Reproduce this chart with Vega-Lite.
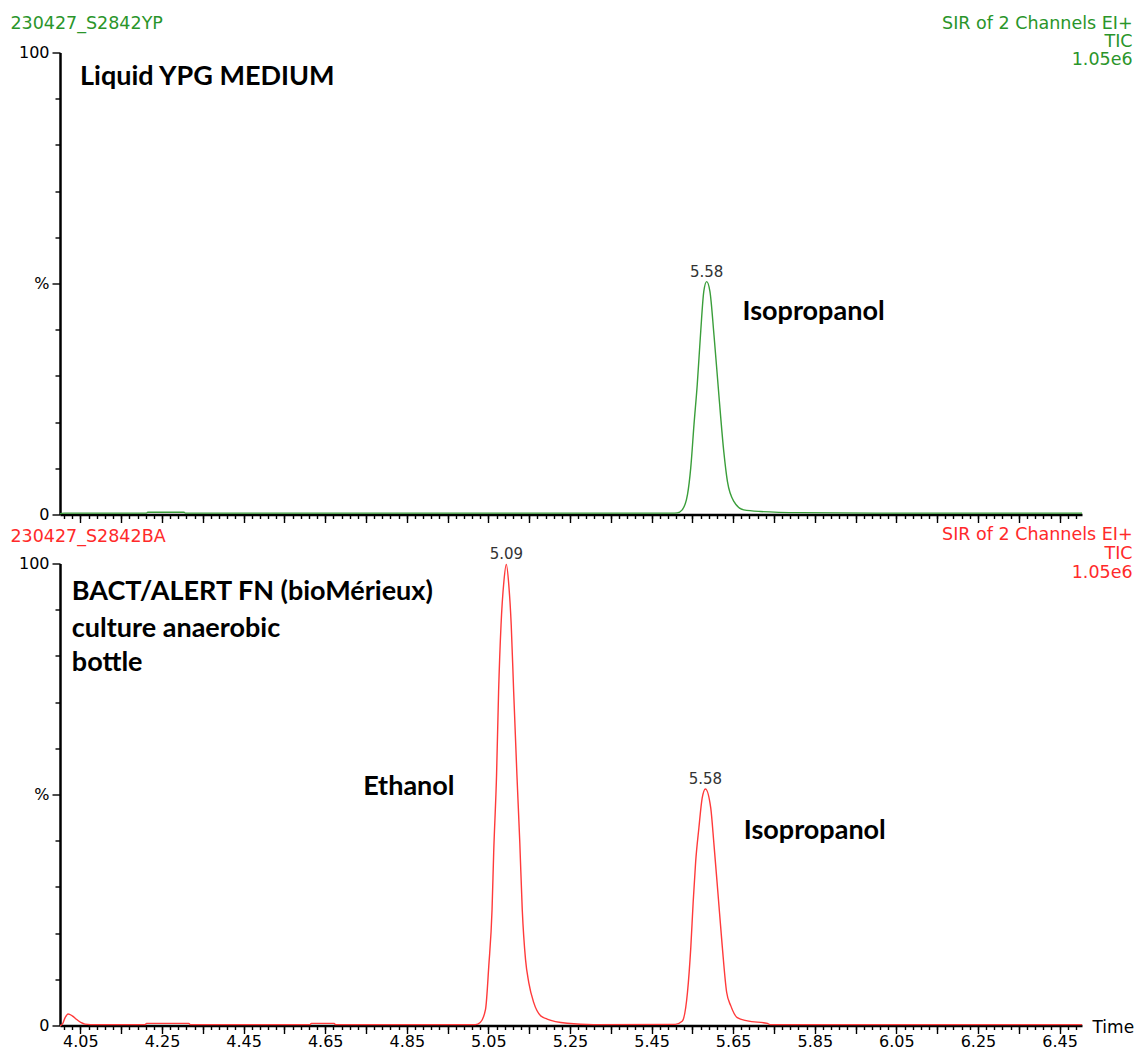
{
  "$schema": "https://vega.github.io/schema/vega-lite/v6.json",
  "background": "white",
  "padding": {"left": 10, "top": 14.5, "right": 4, "bottom": 2},
  "spacing": 49,
  "bounds": "flush",
  "config": {
    "view": {"stroke": null},
    "axis": {
      "grid": false,
      "domainColor": "#000000",
      "domainWidth": 2.5,
      "tickColor": "#000000",
      "tickWidth": 1.4,
      "labelColor": "#000000",
      "labelFont": "DejaVu Sans",
      "labelFontSize": 16,
      "titleFont": "DejaVu Sans",
      "titleFontSize": 17,
      "titleFontWeight": "normal",
      "titleColor": "#000000",
      "labelOverlap": false
    }
  },
  "datasets": {
    "yp": [
      {"time": 4.000, "pct": 0.2}, {"time": 4.010, "pct": 0.3}, {"time": 4.212, "pct": 0.3}, {"time": 4.215, "pct": 0.5},
      {"time": 4.304, "pct": 0.5}, {"time": 4.307, "pct": 0.3}, {"time": 5.500, "pct": 0.3}, {"time": 5.513, "pct": 0.35},
      {"time": 5.525, "pct": 1.0}, {"time": 5.538, "pct": 4.3}, {"time": 5.546, "pct": 10.1}, {"time": 5.554, "pct": 19.5},
      {"time": 5.562, "pct": 28.2}, {"time": 5.570, "pct": 39.0}, {"time": 5.578, "pct": 48.3}, {"time": 5.585, "pct": 50.4},
      {"time": 5.593, "pct": 48.3}, {"time": 5.603, "pct": 38.8}, {"time": 5.615, "pct": 25.8}, {"time": 5.627, "pct": 13.6},
      {"time": 5.636, "pct": 7.1}, {"time": 5.652, "pct": 2.8}, {"time": 5.676, "pct": 1.0}, {"time": 5.717, "pct": 0.65},
      {"time": 5.815, "pct": 0.4}, {"time": 6.000, "pct": 0.3}, {"time": 6.505, "pct": 0.3}
    ],
    "ba": [
      {"time": 4.000, "pct": 0.0}, {"time": 4.006, "pct": 0.3}, {"time": 4.012, "pct": 1.6}, {"time": 4.020, "pct": 2.5},
      {"time": 4.030, "pct": 2.1}, {"time": 4.041, "pct": 1.3}, {"time": 4.052, "pct": 0.6}, {"time": 4.061, "pct": 0.3},
      {"time": 4.075, "pct": 0.2}, {"time": 4.209, "pct": 0.2}, {"time": 4.212, "pct": 0.45}, {"time": 4.316, "pct": 0.45},
      {"time": 4.319, "pct": 0.2}, {"time": 4.613, "pct": 0.2}, {"time": 4.616, "pct": 0.45}, {"time": 4.672, "pct": 0.45},
      {"time": 4.675, "pct": 0.2}, {"time": 5.018, "pct": 0.2}, {"time": 5.030, "pct": 0.65}, {"time": 5.043, "pct": 3.5},
      {"time": 5.051, "pct": 12.9}, {"time": 5.059, "pct": 25.1}, {"time": 5.063, "pct": 37.4}, {"time": 5.070, "pct": 54.1},
      {"time": 5.075, "pct": 72.2}, {"time": 5.081, "pct": 86.7}, {"time": 5.088, "pct": 96.1}, {"time": 5.094, "pct": 99.8},
      {"time": 5.100, "pct": 95.4}, {"time": 5.106, "pct": 86.7}, {"time": 5.112, "pct": 72.2}, {"time": 5.120, "pct": 54.1},
      {"time": 5.127, "pct": 39.6}, {"time": 5.133, "pct": 25.1}, {"time": 5.141, "pct": 14.3}, {"time": 5.149, "pct": 9.3},
      {"time": 5.161, "pct": 5.0}, {"time": 5.178, "pct": 2.1}, {"time": 5.194, "pct": 1.4}, {"time": 5.243, "pct": 0.5},
      {"time": 5.308, "pct": 0.2}, {"time": 5.508, "pct": 0.25}, {"time": 5.525, "pct": 0.9}, {"time": 5.538, "pct": 7.2},
      {"time": 5.546, "pct": 16.7}, {"time": 5.552, "pct": 26.8}, {"time": 5.558, "pct": 35.4}, {"time": 5.566, "pct": 42.8},
      {"time": 5.574, "pct": 49.2}, {"time": 5.582, "pct": 51.2}, {"time": 5.595, "pct": 47.1}, {"time": 5.603, "pct": 39.1},
      {"time": 5.613, "pct": 28.3}, {"time": 5.623, "pct": 17.4}, {"time": 5.634, "pct": 7.2}, {"time": 5.644, "pct": 4.3},
      {"time": 5.660, "pct": 1.7}, {"time": 5.685, "pct": 1.0}, {"time": 5.734, "pct": 0.45}, {"time": 5.740, "pct": 0.2},
      {"time": 6.505, "pct": 0.2}
    ],
    "ypNotes": [
      {"kind": "label", "time": 4.049, "pct": 94.8, "text": "Liquid YPG MEDIUM"},
      {"kind": "label", "time": 5.673, "pct": 43.9, "text": "Isopropanol"},
      {"kind": "peak", "time": 5.585, "pct": 50.4, "text": "5.58"},
      {"kind": "hl", "time": 3.8785, "pct": 106.1, "text": "230427_S2842YP"},
      {"kind": "hr", "time": 6.629, "pct": 106.2, "text": "SIR of 2 Channels EI+"},
      {"kind": "hr", "time": 6.629, "pct": 102.2, "text": "TIC"},
      {"kind": "hr", "time": 6.629, "pct": 98.3, "text": "1.05e6"}
    ],
    "baNotes": [
      {"kind": "label", "time": 4.029, "pct": 93.9, "text": "BACT/ALERT FN (bioMérieux)"},
      {"kind": "label", "time": 4.029, "pct": 85.9, "text": "culture anaerobic"},
      {"kind": "label", "time": 4.029, "pct": 78.4, "text": "bottle"},
      {"kind": "label", "time": 4.743, "pct": 51.7, "text": "Ethanol"},
      {"kind": "label", "time": 5.676, "pct": 42.0, "text": "Isopropanol"},
      {"kind": "peak", "time": 5.094, "pct": 99.8, "text": "5.09"},
      {"kind": "peak", "time": 5.582, "pct": 51.2, "text": "5.58"},
      {"kind": "hl", "time": 3.8785, "pct": 105.8, "text": "230427_S2842BA"},
      {"kind": "hr", "time": 6.629, "pct": 106.1, "text": "SIR of 2 Channels EI+"},
      {"kind": "hr", "time": 6.629, "pct": 102.0, "text": "TIC"},
      {"kind": "hr", "time": 6.629, "pct": 97.9, "text": "1.05e6"}
    ]
  },
  "vconcat": [
    {
      "width": 1022,
      "height": 462,
      "resolve": {"axis": {"x": "independent", "y": "independent"}},
      "layer": [
        {
          "data": {"name": "yp"},
          "mark": {"type": "line", "color": "#3a9e3a", "strokeWidth": 1.4, "interpolate": "monotone"},
          "encoding": {
            "x": {"field": "time", "type": "quantitative",
              "scale": {"domain": [4.0, 6.505], "nice": false, "zero": false},
              "axis": {"orient": "bottom", "values": [4.05,4.15,4.25,4.35,4.45,4.55,4.65,4.75,4.85,4.95,5.05,5.15,5.25,5.35,5.45,5.55,5.65,5.75,5.85,5.95,6.05,6.15,6.25,6.35,6.45], "tickSize": 8, "labels": false, "title": null}},
            "y": {"field": "pct", "type": "quantitative",
              "scale": {"domain": [0, 100], "nice": false},
              "axis": {"orient": "left", "values": [0, 50, 100], "tickSize": 8, "labelFontSize": 16, "labelPadding": 3,
                "labelExpr": "datum.value == 100 ? '100' : (datum.value == 50 ? '%' : '0')", "title": null}}
          }
        },
        {
          "data": {"name": "ypNotes"},
          "transform": [{"filter": "datum.kind == 'label'"}],
          "mark": {"type": "text", "font": "Lato", "fontWeight": "bold", "fontSize": 27, "align": "left", "baseline": "middle", "color": "#000000"},
          "encoding": {
            "x": {"field": "time", "type": "quantitative",
              "axis": {"orient": "bottom", "values": [4.01,4.03,4.05,4.07,4.09,4.11,4.13,4.15,4.17,4.19,4.21,4.23,4.25,4.27,4.29,4.31,4.33,4.35,4.37,4.39,4.41,4.43,4.45,4.47,4.49,4.51,4.53,4.55,4.57,4.59,4.61,4.63,4.65,4.67,4.69,4.71,4.73,4.75,4.77,4.79,4.81,4.83,4.85,4.87,4.89,4.91,4.93,4.95,4.97,4.99,5.01,5.03,5.05,5.07,5.09,5.11,5.13,5.15,5.17,5.19,5.21,5.23,5.25,5.27,5.29,5.31,5.33,5.35,5.37,5.39,5.41,5.43,5.45,5.47,5.49,5.51,5.53,5.55,5.57,5.59,5.61,5.63,5.65,5.67,5.69,5.71,5.73,5.75,5.77,5.79,5.81,5.83,5.85,5.87,5.89,5.91,5.93,5.95,5.97,5.99,6.01,6.03,6.05,6.07,6.09,6.11,6.13,6.15,6.17,6.19,6.21,6.23,6.25,6.27,6.29,6.31,6.33,6.35,6.37,6.39,6.41,6.43,6.45,6.47,6.49], "tickSize": 4, "labels": false, "domain": false, "title": null}},
            "y": {"field": "pct", "type": "quantitative",
              "axis": {"orient": "left", "values": [10, 20, 30, 40, 60, 70, 80, 90], "tickSize": 5, "labels": false, "domain": false, "title": null}},
            "text": {"field": "text"}
          }
        },
        {
          "data": {"name": "ypNotes"},
          "transform": [{"filter": "datum.kind == 'peak'"}],
          "mark": {"type": "text", "font": "DejaVu Sans", "fontSize": 15, "align": "center", "baseline": "alphabetic", "dy": -5, "color": "#333333"},
          "encoding": {
            "x": {"field": "time", "type": "quantitative", "axis": null},
            "y": {"field": "pct", "type": "quantitative", "axis": null},
            "text": {"field": "text"}
          }
        },
        {
          "data": {"name": "ypNotes"},
          "transform": [{"filter": "datum.kind == 'hl'"}],
          "mark": {"type": "text", "font": "DejaVu Sans", "fontSize": 17.5, "align": "left", "baseline": "middle", "color": "#2a952a"},
          "encoding": {
            "x": {"field": "time", "type": "quantitative", "axis": null},
            "y": {"field": "pct", "type": "quantitative", "axis": null},
            "text": {"field": "text"}
          }
        },
        {
          "data": {"name": "ypNotes"},
          "transform": [{"filter": "datum.kind == 'hr'"}],
          "mark": {"type": "text", "font": "DejaVu Sans", "fontSize": 17.5, "align": "right", "baseline": "middle", "color": "#2a952a"},
          "encoding": {
            "x": {"field": "time", "type": "quantitative", "axis": null},
            "y": {"field": "pct", "type": "quantitative", "axis": null},
            "text": {"field": "text"}
          }
        }
      ]
    },
    {
      "width": 1022,
      "height": 462,
      "resolve": {"axis": {"x": "independent", "y": "independent"}},
      "layer": [
        {
          "data": {"name": "ba"},
          "mark": {"type": "line", "color": "#ff3a3a", "strokeWidth": 1.4, "interpolate": "monotone"},
          "encoding": {
            "x": {"field": "time", "type": "quantitative",
              "scale": {"domain": [4.0, 6.505], "nice": false, "zero": false},
              "axis": {"orient": "bottom", "values": [4.05,4.15,4.25,4.35,4.45,4.55,4.65,4.75,4.85,4.95,5.05,5.15,5.25,5.35,5.45,5.55,5.65,5.75,5.85,5.95,6.05,6.15,6.25,6.35,6.45], "tickSize": 8, "labelPadding": 0,
                "labelExpr": "round(datum.value * 100) % 20 == 5 ? format(datum.value, '.2f') : ''",
                "title": "Time", "titleX": 1032, "titleY": 2, "titleAlign": "left", "titleBaseline": "middle", "titleAngle": 0}},
            "y": {"field": "pct", "type": "quantitative",
              "scale": {"domain": [0, 100], "nice": false},
              "axis": {"orient": "left", "values": [0, 50, 100], "tickSize": 8, "labelFontSize": 16, "labelPadding": 3,
                "labelExpr": "datum.value == 100 ? '100' : (datum.value == 50 ? '%' : '0')", "title": null}}
          }
        },
        {
          "data": {"name": "baNotes"},
          "transform": [{"filter": "datum.kind == 'label'"}],
          "mark": {"type": "text", "font": "Lato", "fontWeight": "bold", "fontSize": 27, "align": "left", "baseline": "middle", "color": "#000000"},
          "encoding": {
            "x": {"field": "time", "type": "quantitative",
              "axis": {"orient": "bottom", "values": [4.01,4.03,4.05,4.07,4.09,4.11,4.13,4.15,4.17,4.19,4.21,4.23,4.25,4.27,4.29,4.31,4.33,4.35,4.37,4.39,4.41,4.43,4.45,4.47,4.49,4.51,4.53,4.55,4.57,4.59,4.61,4.63,4.65,4.67,4.69,4.71,4.73,4.75,4.77,4.79,4.81,4.83,4.85,4.87,4.89,4.91,4.93,4.95,4.97,4.99,5.01,5.03,5.05,5.07,5.09,5.11,5.13,5.15,5.17,5.19,5.21,5.23,5.25,5.27,5.29,5.31,5.33,5.35,5.37,5.39,5.41,5.43,5.45,5.47,5.49,5.51,5.53,5.55,5.57,5.59,5.61,5.63,5.65,5.67,5.69,5.71,5.73,5.75,5.77,5.79,5.81,5.83,5.85,5.87,5.89,5.91,5.93,5.95,5.97,5.99,6.01,6.03,6.05,6.07,6.09,6.11,6.13,6.15,6.17,6.19,6.21,6.23,6.25,6.27,6.29,6.31,6.33,6.35,6.37,6.39,6.41,6.43,6.45,6.47,6.49], "tickSize": 4, "labels": false, "domain": false, "title": null}},
            "y": {"field": "pct", "type": "quantitative",
              "axis": {"orient": "left", "values": [10, 20, 30, 40, 60, 70, 80, 90], "tickSize": 5, "labels": false, "domain": false, "title": null}},
            "text": {"field": "text"}
          }
        },
        {
          "data": {"name": "baNotes"},
          "transform": [{"filter": "datum.kind == 'peak'"}],
          "mark": {"type": "text", "font": "DejaVu Sans", "fontSize": 15, "align": "center", "baseline": "alphabetic", "dy": -5, "color": "#333333"},
          "encoding": {
            "x": {"field": "time", "type": "quantitative", "axis": null},
            "y": {"field": "pct", "type": "quantitative", "axis": null},
            "text": {"field": "text"}
          }
        },
        {
          "data": {"name": "baNotes"},
          "transform": [{"filter": "datum.kind == 'hl'"}],
          "mark": {"type": "text", "font": "DejaVu Sans", "fontSize": 17.5, "align": "left", "baseline": "middle", "color": "#ff2a2a"},
          "encoding": {
            "x": {"field": "time", "type": "quantitative", "axis": null},
            "y": {"field": "pct", "type": "quantitative", "axis": null},
            "text": {"field": "text"}
          }
        },
        {
          "data": {"name": "baNotes"},
          "transform": [{"filter": "datum.kind == 'hr'"}],
          "mark": {"type": "text", "font": "DejaVu Sans", "fontSize": 17.5, "align": "right", "baseline": "middle", "color": "#ff2a2a"},
          "encoding": {
            "x": {"field": "time", "type": "quantitative", "axis": null},
            "y": {"field": "pct", "type": "quantitative", "axis": null},
            "text": {"field": "text"}
          }
        }
      ]
    }
  ]
}
